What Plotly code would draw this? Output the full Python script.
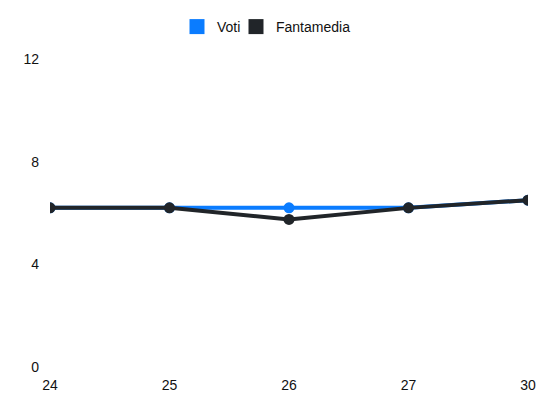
import plotly.graph_objects as go

giornate = ["24", "25", "26", "27", "30"]
voti = [6.2, 6.2, 6.2, 6.2, 6.5]
fantamedia = [6.2, 6.2, 5.75, 6.2, 6.5]

blue = "#0a7cff"
dark = "#212529"

# page has an 8px body margin, so size the figure to land at the same pixels
W, H = 534, 396

fig = go.Figure()
fig.add_trace(go.Scatter(x=giornate, y=voti, name="Voti", mode="lines+markers",
                         line=dict(color=blue, width=4),
                         marker=dict(size=11, color=blue), showlegend=False))
fig.add_trace(go.Scatter(x=giornate, y=fantamedia, name="Fantamedia", mode="lines+markers",
                         line=dict(color=dark, width=4),
                         marker=dict(size=11, color=dark), showlegend=False))
# square legend keys, one legend each so the spacing can be set
fig.add_trace(go.Scatter(x=[None], y=[None], name="Voti", mode="markers",
                         marker=dict(symbol="square", size=15, color=blue), legend="legend"))
fig.add_trace(go.Scatter(x=[None], y=[None], name="Fantamedia", mode="markers",
                         marker=dict(symbol="square", size=15, color=dark), legend="legend2"))

leg = dict(orientation="h", xanchor="left", xref="container",
           y=1 - 19 / H, yanchor="middle", yref="container", font=dict(size=14),
           bgcolor="rgba(0,0,0,0)")
fig.update_layout(
    width=W, height=H,
    margin=dict(l=42, r=14, t=51, b=37, autoexpand=False),
    paper_bgcolor="white", plot_bgcolor="white",
    font=dict(family="Liberation Sans, Arial", size=14, color="#111"),
    showlegend=True,
    legend=dict(leg, x=169 / W),
    legend2=dict(leg, x=228 / W),
)
fig.update_xaxes(type="category", showgrid=False, zeroline=False, showline=False,
                 range=[0, 4], automargin=False, ticklabelstandoff=8)
fig.update_yaxes(range=[0, 12], tickvals=[0, 4, 8, 12], showgrid=False, zeroline=False,
                 showline=False, automargin=False, ticklabelstandoff=10)

fig.write_html("out.html")
